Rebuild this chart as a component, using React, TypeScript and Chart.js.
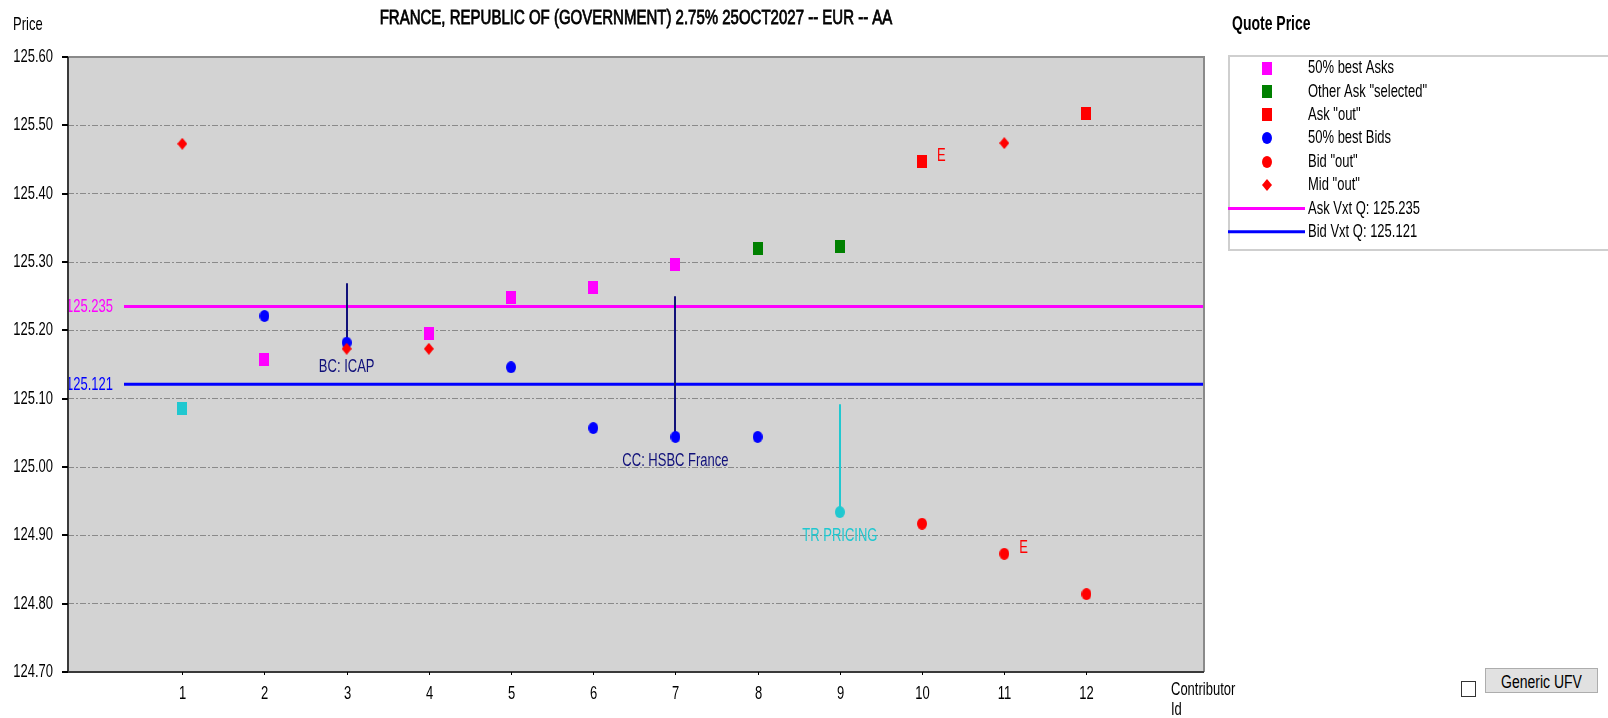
import React, { useEffect, useRef } from "react";
import { Chart, registerables } from "chart.js";

Chart.register(...registerables);

// ---------------- DATA ----------------
const chartTitle = "FRANCE, REPUBLIC OF (GOVERNMENT) 2.75% 25OCT2027 -- EUR -- AA";
const contributorIds = [1, 2, 3, 4, 5, 6, 7, 8, 9, 10, 11, 12];
const yTickValues = [125.6, 125.5, 125.4, 125.3, 125.2, 125.1, 125.0, 124.9, 124.8, 124.7];
const yTickLabels = ["125.60", "125.50", "125.40", "125.30", "125.20", "125.10", "125.00", "124.90", "124.80", "124.70"];

const bestAsks = [null, 125.157, null, 125.195, 125.248, 125.262, 125.296, null, null, null, null, null];
const otherAskSelected = [null, null, null, null, null, null, null, 125.32, 125.322, null, null, null];
const askOut = [null, null, null, null, null, null, null, null, null, 125.447, null, 125.517];
const bestBids = [null, 125.221, 125.182, null, 125.146, 125.057, 125.044, 125.044, null, null, null, null];
const bidOut = [null, null, null, null, null, null, null, null, null, 124.917, 124.873, 124.814];
const midOut = [125.473, null, 125.173, 125.173, null, null, null, null, null, null, 125.474, null];
const trPricingAsk = [125.086, null, null, null, null, null, null, null, null, null, null, null];
const trPricingBid = [null, null, null, null, null, null, null, null, 124.934, null, null, null];

const askVxtQ = 125.235;
const bidVxtQ = 125.121;

const calloutIds = [3, 7, 9];
const calloutFrom = [125.269, 125.25, 125.092];
const calloutTo = [125.182, 125.044, 124.934];
const calloutLabels = ["BC: ICAP", "CC: HSBC France", "TR PRICING"];

const flagIds = [10, 11];
const flagValues = [125.447, 124.873];
const flagLabels = ["E", "E"];

// ---------------- STYLE ----------------
const FONT = '"Liberation Sans", Arial, sans-serif';
const VS = 1.45;
const MAGENTA = "#ff00ff";
const GREEN = "#008000";
const RED = "#ff0000";
const BLUE = "#0000ff";
const CYAN = "#20c8d0";
const NAVY = "#10107a";
const calloutColors = [NAVY, NAVY, CYAN];

function makeMarker(shape: string, color: string) {
  const c = document.createElement("canvas");
  const w = 10;
  const h = shape === "rect" ? 13 : 12;
  c.width = w;
  c.height = h;
  const g = c.getContext("2d")!;
  g.fillStyle = color;
  if (shape === "rect") {
    g.fillRect(0, 0, w, h);
  } else if (shape === "circle") {
    g.beginPath();
    g.ellipse(w / 2, h / 2, w / 2, h / 2, 0, 0, Math.PI * 2);
    g.fill();
  } else {
    g.beginPath();
    g.moveTo(w / 2, 0);
    g.lineTo(w, h / 2);
    g.lineTo(w / 2, h);
    g.lineTo(0, h / 2);
    g.closePath();
    g.fill();
  }
  return c;
}

function drawText(
  ctx: CanvasRenderingContext2D,
  s: string,
  x: number,
  y: number,
  o: { size?: number; weight?: string; color?: string; align?: CanvasTextAlign; vs?: number; stroke?: number } = {}
) {
  const { size = 13, weight = "normal", color = "#000", align = "left", vs = VS, stroke = 0 } = o;
  ctx.save();
  ctx.translate(x, y);
  ctx.scale(1, vs);
  ctx.font = `${weight} ${size}px ${FONT}`;
  ctx.fillStyle = color;
  ctx.textAlign = align;
  ctx.textBaseline = "middle";
  ctx.fillText(s, 0, 0);
  if (stroke > 0) {
    ctx.strokeStyle = color;
    ctx.lineWidth = stroke;
    ctx.strokeText(s, 0, 0);
  }
  ctx.restore();
}

const toPoints = (arr: (number | null)[]) =>
  contributorIds
    .map((id, i) => ({ x: id, y: arr[i] }))
    .filter((p) => p.y !== null) as { x: number; y: number }[];

export default function App() {
  const ref = useRef<HTMLCanvasElement | null>(null);

  useEffect(() => {
    document.body.style.margin = "0";
    const canvas = ref.current!;
    const mk = {
      bestAsk: makeMarker("rect", MAGENTA),
      otherAsk: makeMarker("rect", GREEN),
      askOut: makeMarker("rect", RED),
      bestBid: makeMarker("circle", BLUE),
      bidOut: makeMarker("circle", RED),
      midOut: makeMarker("diamond", RED),
      trAsk: makeMarker("rect", CYAN),
      trBid: makeMarker("circle", CYAN),
    };

    const datasets: any[] = [
      { label: "50% best Asks", data: toPoints(bestAsks), pointStyle: mk.bestAsk, legend: true },
      { label: 'Other Ask "selected"', data: toPoints(otherAskSelected), pointStyle: mk.otherAsk, legend: true },
      { label: 'Ask "out"', data: toPoints(askOut), pointStyle: mk.askOut, legend: true },
      { label: "50% best Bids", data: toPoints(bestBids), pointStyle: mk.bestBid, legend: true },
      { label: 'Bid "out"', data: toPoints(bidOut), pointStyle: mk.bidOut, legend: true },
      { label: 'Mid "out"', data: toPoints(midOut), pointStyle: mk.midOut, legend: true },
      { label: "TR Pricing Ask", data: toPoints(trPricingAsk), pointStyle: mk.trAsk, legend: false },
      { label: "TR Pricing Bid", data: toPoints(trPricingBid), pointStyle: mk.trBid, legend: false },
    ].map((d, i, all) => ({ ...d, order: all.length - i }));

    const refLines = [
      { value: askVxtQ, color: MAGENTA, legend: "Ask Vxt Q: " + askVxtQ.toFixed(3) },
      { value: bidVxtQ, color: BLUE, legend: "Bid Vxt Q: " + bidVxtQ.toFixed(3) },
    ];

    const overlay = {
      id: "overlay",
      beforeDraw(chart: any) {
        const { ctx, chartArea: a } = chart;
        ctx.save();
        ctx.fillStyle = "#ffffff";
        ctx.fillRect(0, 0, chart.width, chart.height);
        ctx.fillStyle = "#d3d3d3";
        ctx.fillRect(a.left, a.top, a.right - a.left, a.bottom - a.top);
        ctx.restore();
      },
      beforeDatasetsDraw(chart: any) {
        const { ctx, chartArea: a, scales } = chart;
        const y = scales.y;
        const x = scales.x;
        ctx.save();
        refLines.forEach((r) => {
          const py = y.getPixelForValue(r.value);
          ctx.strokeStyle = r.color;
          ctx.lineWidth = 3;
          ctx.beginPath();
          ctx.moveTo(a.left + 56, py);
          ctx.lineTo(a.right - 1, py);
          ctx.stroke();
          drawText(ctx, r.value.toFixed(3), a.left - 2, py, { color: r.color });
        });
        calloutIds.forEach((id, i) => {
          const px = Math.round(x.getPixelForValue(id));
          ctx.strokeStyle = calloutColors[i];
          ctx.lineWidth = 2;
          ctx.beginPath();
          ctx.moveTo(px, y.getPixelForValue(calloutFrom[i]));
          ctx.lineTo(px, y.getPixelForValue(calloutTo[i]));
          ctx.stroke();
        });
        ctx.restore();
      },
      afterDatasetsDraw(chart: any) {
        const { ctx, scales } = chart;
        const y = scales.y;
        const x = scales.x;
        calloutIds.forEach((id, i) => {
          drawText(ctx, calloutLabels[i], x.getPixelForValue(id), y.getPixelForValue(calloutTo[i]) + 24, {
            color: calloutColors[i],
            align: "center",
          });
        });
        flagIds.forEach((id, i) => {
          drawText(ctx, flagLabels[i], x.getPixelForValue(id) + 15, y.getPixelForValue(flagValues[i]) - 6, {
            color: RED,
          });
        });
      },
      afterDraw(chart: any) {
        const { ctx, chartArea: a, scales } = chart;
        const y = scales.y;
        const x = scales.x;
        ctx.save();
        // plot frame
        ctx.lineWidth = 2;
        ctx.strokeStyle = "#8a8a8a";
        ctx.beginPath();
        ctx.moveTo(a.left, a.top);
        ctx.lineTo(a.right, a.top);
        ctx.lineTo(a.right, a.bottom);
        ctx.stroke();
        ctx.strokeStyle = "#3a3a3a";
        ctx.beginPath();
        ctx.moveTo(a.left, a.top);
        ctx.lineTo(a.left, a.bottom);
        ctx.lineTo(a.right, a.bottom);
        ctx.stroke();
        // y ticks
        yTickValues.forEach((v, i) => {
          const py = Math.round(y.getPixelForValue(v));
          ctx.strokeStyle = "#000";
          ctx.lineWidth = 2;
          ctx.beginPath();
          ctx.moveTo(a.left - 6, py);
          ctx.lineTo(a.left, py);
          ctx.stroke();
          drawText(ctx, yTickLabels[i], a.left - 15, py, { align: "right" });
        });
        // x ticks
        contributorIds.forEach((id) => {
          const px = Math.round(x.getPixelForValue(id)) + 0.5;
          ctx.strokeStyle = "#000";
          ctx.lineWidth = 1;
          ctx.beginPath();
          ctx.moveTo(px, a.bottom);
          ctx.lineTo(px, a.bottom + 3);
          ctx.stroke();
          drawText(ctx, String(id), px, a.bottom + 22, { align: "center" });
        });
        drawText(ctx, "Contributor", a.right - 33, a.bottom + 18);
        drawText(ctx, "Id", a.right - 33, a.bottom + 38);
        // titles
        drawText(ctx, "Price", 13, 25);
        drawText(ctx, chartTitle, (a.left + a.right) / 2, 19, { size: 15, vs: 1.3, align: "center", stroke: 0.6 });
        ctx.restore();

        // legend
        ctx.save();
        const lx = a.right + 24;
        drawText(ctx, "Quote Price", lx + 4, 24, { size: 14, weight: "bold" });
        ctx.strokeStyle = "#cfcfcf";
        ctx.lineWidth = 2;
        ctx.strokeRect(lx + 1, 56, chart.width - lx + 10, 194);
        let row = 0;
        const rowY = (r: number) => 68 + r * 23.4;
        chart.data.datasets.forEach((d: any) => {
          if (!d.legend) return;
          const ry = rowY(row);
          const img = d.pointStyle as HTMLCanvasElement;
          ctx.drawImage(img, Math.round(lx + 39 - img.width / 2), Math.round(ry - img.height / 2));
          drawText(ctx, d.label, lx + 80, ry);
          row++;
        });
        refLines.forEach((r) => {
          const ry = rowY(row);
          ctx.strokeStyle = r.color;
          ctx.lineWidth = 3;
          ctx.beginPath();
          ctx.moveTo(lx, ry);
          ctx.lineTo(lx + 77, ry);
          ctx.stroke();
          drawText(ctx, r.legend, lx + 80, ry);
          row++;
        });
        ctx.restore();
      },
    };

    const chart = new Chart(canvas, {
      type: "scatter",
      data: { datasets },
      options: {
        animation: false,
        responsive: false,
        devicePixelRatio: 1,
        layout: { padding: { left: 68, top: 57, right: 404, bottom: 46 } },
        plugins: { legend: { display: false }, tooltip: { enabled: false }, title: { display: false } },
        scales: {
          x: { type: "linear", min: -0.39, max: 13.43, display: false },
          y: {
            type: "linear",
            min: 124.7,
            max: 125.6,
            ticks: { display: false, stepSize: 0.1 },
            grid: {
              drawTicks: false,
              lineWidth: 1,
              color: (c: any) => {
                const v = c.tick ? c.tick.value : 0;
                if (Math.abs(v - 125.6) < 1e-6 || Math.abs(v - 124.7) < 1e-6) return "rgba(0,0,0,0)";
                return "#8a8a8a";
              },
            },
            border: { display: false, dash: [6, 2, 2, 2] },
            afterFit: (s: any) => {
              s.width = 0;
            },
          },
        },
        elements: { point: { radius: 6, hoverRadius: 6 } },
      } as any,
      plugins: [overlay],
    });
    return () => chart.destroy();
  }, []);

  return (
    <div style={{ position: "fixed", left: 0, top: 0, width: 1608, height: 718, background: "#fff" }}>
      <canvas ref={ref} width={1608} height={718} style={{ position: "absolute", left: 0, top: 0 }} />
      <div
        style={{
          position: "absolute",
          left: 1461,
          top: 681,
          width: 15,
          height: 16,
          border: "1px solid #333",
          background: "#fff",
          boxSizing: "border-box",
        }}
      />
      <button
        style={{
          position: "absolute",
          left: 1485,
          top: 668,
          width: 113,
          height: 25,
          background: "#e1e1e1",
          border: "1px solid #adadad",
          padding: 0,
          fontFamily: FONT,
          fontSize: 14,
          color: "#000",
        }}
      >
        <span style={{ display: "inline-block", transform: "scaleY(1.35)" }}>Generic UFV</span>
      </button>
    </div>
  );
}
